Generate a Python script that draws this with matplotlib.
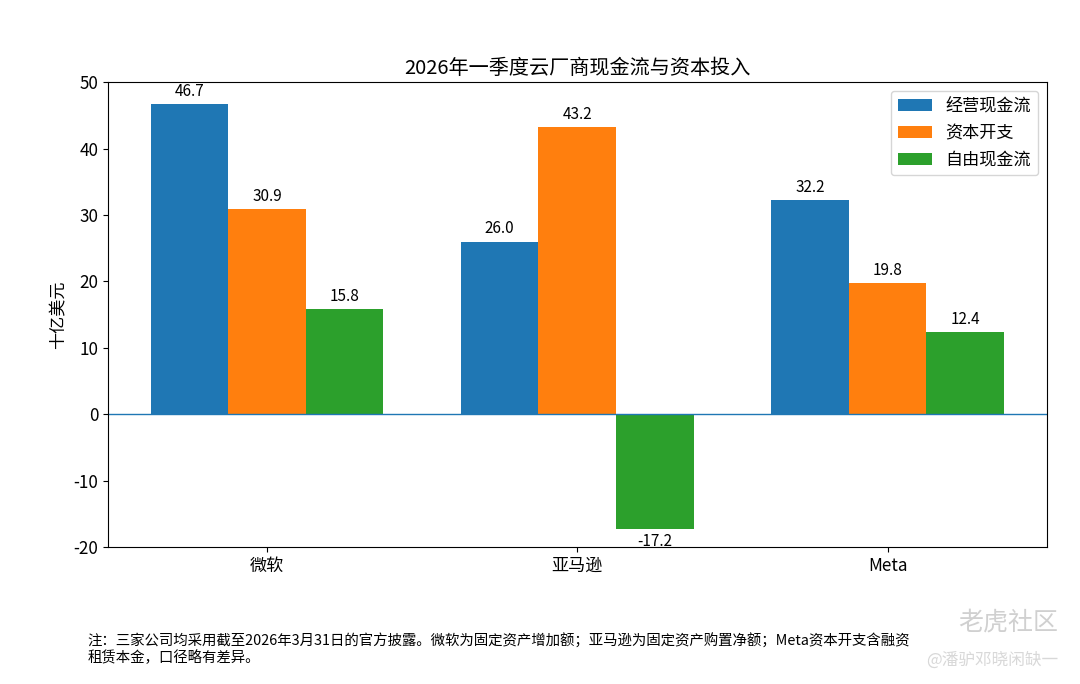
import numpy as np
import matplotlib
matplotlib.use("Agg")
import matplotlib.pyplot as plt

plt.rcParams['font.family'] = ['Noto Sans CJK SC', 'DejaVu Sans']
plt.rcParams['axes.unicode_minus'] = False

companies = ["微软", "亚马逊", "Meta"]
series_names = ["经营现金流", "资本开支", "自由现金流"]
operating_cf = [46.7, 26.0, 32.2]
capex = [30.9, 43.2, 19.8]
free_cf = [15.8, -17.2, 12.4]

fig = plt.figure(figsize=(10.8, 6.84), dpi=100)
ax = fig.add_axes([0.1, 0.2, 0.869, 0.68])

x = np.arange(len(companies))
w = 0.25
for i, (vals, name) in enumerate(zip([operating_cf, capex, free_cf], series_names)):
    bars = ax.bar(x + (i - 1) * w, vals, w, label=name)
    ax.bar_label(bars, labels=[f"{v:.1f}" for v in vals], padding=3, fontsize=11)

ax.axhline(0, linewidth=1)
ax.set_ylim(-20, 50)
ax.set_xticks(x)
ax.set_xticklabels(companies)
ax.tick_params(labelsize=12.3)
ax.set_ylabel("十亿美元", fontsize=12.3)
ax.set_title("2026年一季度云厂商现金流与资本投入", fontsize=14.5)
ax.legend(fontsize=12.3)

fig.text(0.081, 0.028,
         "注：三家公司均采用截至2026年3月31日的官方披露。微软为固定资产增加额；亚马逊为固定资产购置净额；Meta资本开支含融资\n租赁本金，口径略有差异。",
         fontsize=10.4, ha='left', va='bottom', linespacing=1.15)

# watermark
fig.text(0.98, 0.09, "老虎社区", fontsize=18, color='#d0d0d0', ha='right', va='center')
fig.text(0.98, 0.035, "@潘驴邓晓闲缺一", fontsize=12, color='#d8d8d8', ha='right', va='center')

fig.savefig("out.png", dpi=100)
